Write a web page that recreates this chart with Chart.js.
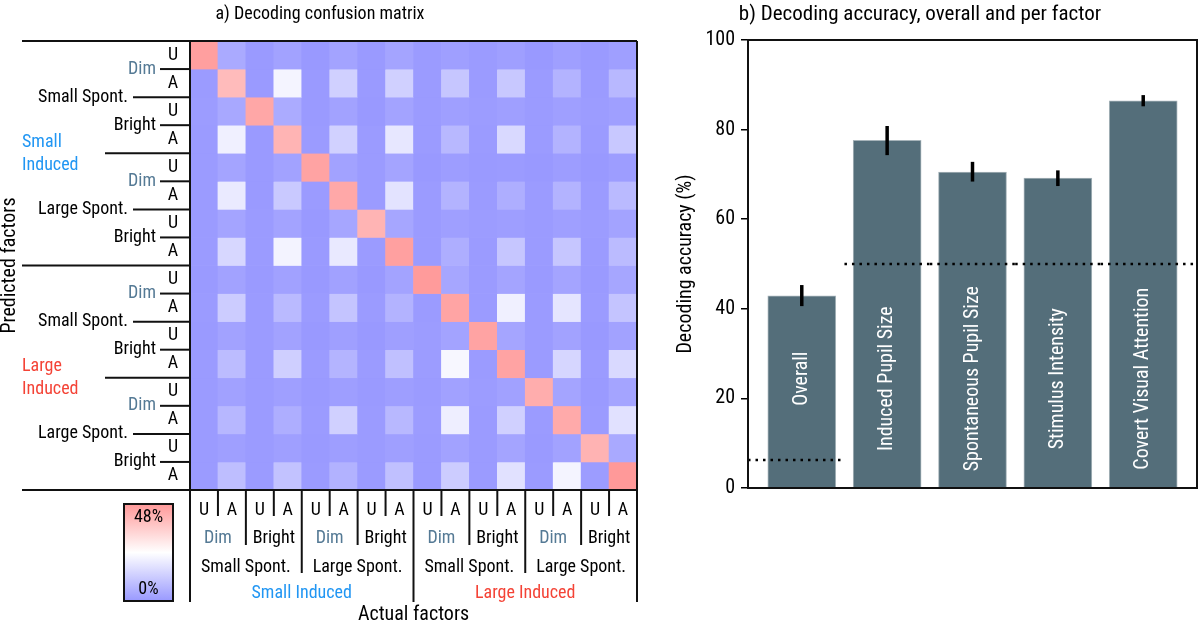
<!DOCTYPE html>
<html>
<head>
<meta charset="utf-8">
<script src="https://cdn.jsdelivr.net/npm/chart.js@4.4.1/dist/chart.umd.min.js"></script>
<style>
html, body { margin: 0; padding: 0; background: #fff; }
#wrap { position: relative; width: 1200px; height: 622px; }
#left { position: absolute; left: 0; top: 0; }
#right { position: absolute; left: 640px; top: 0; }
</style>
</head>
<body>
<div id="wrap">
  <canvas id="left" width="640" height="622"></canvas>
  <canvas id="right" width="560" height="622"></canvas>
</div>
<script>
const FONT = '"Roboto Condensed", "Liberation Sans Narrow", "DejaVu Sans Condensed", Roboto, sans-serif';

// factor levels, nested: induced > spontaneous > intensity > attention
const attention = ['U', 'A'];
const intensity = ['Dim', 'Bright'];
const spontaneous = ['Small Spont.', 'Large Spont.'];
const induced = ['Small Induced', 'Large Induced'];

// confusion matrix in %, rows = predicted, columns = actual
const confusion = [
  [46.6, 4.0, 0.3, 2.0, 0.0, 2.4, 0.3, 2.6, 0.5, 1.5, 0.5, 1.5, 0.0, 1.4, 0.3, 1.4],
  [0.5, 40.0, 0.3, 21.4, 0.3, 13.0, 0.3, 13.0, 0.5, 10.6, 0.5, 11.0, 0.5, 6.0, 0.5, 7.3],
  [0.7, 3.5, 44.7, 4.2, 0.3, 2.0, 0.0, 2.4, 0.5, 1.5, 0.7, 1.5, 0.5, 1.5, 0.7, 1.5],
  [0.5, 20.5, 0.3, 41.6, 0.5, 13.2, 0.5, 18.4, 0.5, 7.3, 0.5, 15.0, 0.5, 6.0, 0.5, 11.0],
  [0.5, 2.6, 0.3, 2.0, 45.6, 2.0, 0.5, 2.6, 0.0, 1.0, 0.3, 0.5, 0.0, 1.0, 0.0, 1.0],
  [0.5, 19.0, 0.3, 11.3, 0.5, 44.5, 0.5, 17.4, 0.5, 6.0, 0.5, 4.9, 0.5, 6.0, 0.5, 7.8],
  [0.5, 2.6, 0.5, 2.4, 0.0, 3.0, 41.6, 3.0, 0.5, 1.5, 0.7, 1.2, 0.5, 1.5, 0.7, 2.4],
  [0.5, 14.6, 0.5, 21.2, 0.3, 18.8, 0.5, 46.4, 0.5, 4.9, 0.5, 10.6, 0.5, 10.6, 0.5, 8.0],
  [0.3, 2.0, 0.3, 1.8, 0.0, 1.8, 0.0, 2.4, 47.6, 3.0, 0.5, 2.6, 0.3, 2.6, 0.3, 3.0],
  [0.5, 12.0, 0.5, 7.8, 0.5, 10.0, 0.5, 6.0, 0.5, 45.4, 0.5, 20.5, 0.5, 17.9, 0.5, 10.1],
  [0.3, 2.0, 0.5, 2.0, 0.0, 1.5, 0.0, 1.4, 0.7, 2.4, 45.6, 2.8, 0.5, 2.0, 0.0, 2.0],
  [0.5, 8.2, 0.5, 12.7, 0.5, 6.3, 0.5, 9.2, 0.7, 22.0, 0.5, 45.6, 0.5, 14.3, 0.5, 15.0],
  [0.5, 1.8, 0.5, 1.4, 0.3, 1.2, 0.3, 1.2, 0.5, 1.8, 0.7, 1.8, 43.3, 2.6, 0.3, 2.6],
  [0.5, 7.0, 0.5, 4.9, 0.5, 13.0, 0.5, 7.3, 0.7, 20.0, 0.5, 13.0, 0.5, 44.0, 0.5, 16.9],
  [0.5, 1.4, 0.5, 1.5, 0.3, 1.2, 0.5, 1.4, 0.5, 2.0, 0.5, 2.6, 0.3, 2.0, 41.9, 3.8],
  [0.5, 8.7, 0.5, 9.6, 0.5, 5.9, 0.5, 9.2, 0.5, 12.0, 0.5, 16.9, 0.5, 21.4, 0.7, 48.0]
];
const colorMax = 48;
const colorbarLabels = ['48%', '0%'];

// panel b
const factors = ['Overall', 'Induced Pupil Size', 'Spontaneous Pupil Size', 'Stimulus Intensity', 'Covert Visual Attention'];
const accuracy = [42.9, 77.6, 70.5, 69.2, 86.4];
const errLow = [40.6, 74.3, 68.4, 67.4, 85.2];
const errHigh = [45.3, 80.8, 72.8, 70.9, 87.7];
const chance = [6.25, 50, 50, 50, 50];

const levelColor = { 'Dim': '#557a95', 'Small Induced': '#2196f3', 'Large Induced': '#f44336' };

// blue-white-red at 40% opacity on white
function heatColor(v) {
  const t = Math.max(0, Math.min(1, v / colorMax));
  if (t < 0.5) {
    const c = Math.round(153 + 204 * t);
    return `rgb(${c},${c},255)`;
  }
  const c = Math.round(255 - 204 * (t - 0.5));
  return `rgb(255,${c},${c})`;
}

const cellLabels = [];
induced.forEach(a => spontaneous.forEach(b => intensity.forEach(c => attention.forEach(d => {
  cellLabels.push(`${a} / ${b} / ${c} / ${d}`);
}))));

function text(ctx, str, x, y, opts = {}) {
  ctx.save();
  ctx.font = `${opts.size || 18}px ${FONT}`;
  ctx.fillStyle = opts.color || '#000';
  ctx.textAlign = opts.align || 'center';
  ctx.textBaseline = 'middle';
  ctx.translate(x, y);
  if (opts.rotate) ctx.rotate(opts.rotate);
  ctx.fillText(str, 0, 0);
  ctx.restore();
}

function line(ctx, x0, y0, x1, y1) {
  ctx.beginPath();
  ctx.moveTo(x0, y0);
  ctx.lineTo(x1, y1);
  ctx.stroke();
}

const matrixLabels = {
  id: 'matrixLabels',
  afterDraw(chart) {
    const { ctx, chartArea: a, scales: { x, y } } = chart;
    const colX = k => x.getPixelForValue(k - 0.5);
    const rowY = k => y.getPixelForValue(k);
    const n = cellLabels.length;

    ctx.save();
    ctx.strokeStyle = '#111';
    ctx.lineWidth = 2;
    // frame
    line(ctx, 22, a.top, a.right, a.top);
    line(ctx, 22, a.bottom, a.right, a.bottom);
    line(ctx, a.left, a.top, a.left, 602);
    line(ctx, a.right, a.top, a.right, 602);

    for (let k = 1; k < n; k++) {
      // row separators on the left
      const yy = rowY(k);
      const x0 = k % 8 === 0 ? 22 : k % 4 === 0 ? 105 : k % 2 === 0 ? 133 : 160;
      line(ctx, x0, yy, a.left, yy);
      // column separators below
      const xx = colX(k);
      const y1 = k % 8 === 0 ? 602 : k % 4 === 0 ? 573 : k % 2 === 0 ? 545 : 516;
      line(ctx, xx, a.bottom, xx, y1);
    }
    ctx.restore();

    for (let k = 0; k < n; k++) {
      const lab = attention[k % 2];
      text(ctx, lab, 173, y.getPixelForValue(k + 0.5));
      text(ctx, lab, x.getPixelForValue(k), 510);
    }
    for (let k = 1; k < n; k += 2) {
      const lab = intensity[((k - 1) / 2) % 2];
      const col = levelColor[lab] || '#000';
      text(ctx, lab, 156, rowY(k), { align: 'right', color: col });
      text(ctx, lab, colX(k), 538, { color: col });
    }
    for (let k = 2; k < n; k += 4) {
      const lab = spontaneous[((k - 2) / 4) % 2];
      text(ctx, lab, 128, rowY(k), { align: 'right' });
      text(ctx, lab, colX(k), 567);
    }
    for (let k = 4; k < n; k += 8) {
      const lab = induced[(k - 4) / 8];
      const col = levelColor[lab];
      const parts = lab.split(' ');
      text(ctx, parts[0], 22, rowY(k) - 11, { align: 'left', color: col });
      text(ctx, parts[1], 22, rowY(k) + 12, { align: 'left', color: col });
      text(ctx, lab, colX(k), 593, { color: col });
    }

    // colour bar
    const cb = { l: 124, r: 173, t: 504, b: 601 };
    const g = ctx.createLinearGradient(0, cb.b, 0, cb.t);
    [0, 0.25, 0.5, 0.75, 1].forEach(s => g.addColorStop(s, heatColor(s * colorMax)));
    ctx.save();
    ctx.fillStyle = g;
    ctx.fillRect(cb.l, cb.t, cb.r - cb.l, cb.b - cb.t);
    ctx.strokeStyle = '#111';
    ctx.lineWidth = 2;
    ctx.strokeRect(cb.l, cb.t, cb.r - cb.l, cb.b - cb.t);
    ctx.restore();
    text(ctx, colorbarLabels[0], (cb.l + cb.r) / 2, cb.t + 13);
    text(ctx, colorbarLabels[1], (cb.l + cb.r) / 2, cb.b - 12);

    text(ctx, 'a) Decoding confusion matrix', 320, 14, { size: 18 });
    text(ctx, 'Predicted factors', 10, (a.top + a.bottom) / 2, { size: 20, rotate: -Math.PI / 2 });
    text(ctx, 'Actual factors', (a.left + a.right) / 2, 615, { size: 20 });
  }
};

new Chart(document.getElementById('left'), {
  type: 'bar',
  data: {
    labels: cellLabels,
    datasets: confusion.map((row, r) => ({
      label: cellLabels[r],
      data: row.map(() => 1),
      backgroundColor: row.map(heatColor),
      borderWidth: 0,
      barPercentage: 1,
      categoryPercentage: 1
    }))
  },
  options: {
    responsive: false,
    animation: false,
    layout: { padding: { left: 190, right: 3, top: 41, bottom: 132 } },
    plugins: { legend: { display: false }, tooltip: { enabled: false } },
    scales: {
      x: { stacked: true, display: false },
      y: { stacked: true, reverse: true, min: 0, max: confusion.length, display: false }
    }
  },
  plugins: [matrixLabels]
});

const accuracyExtras = {
  id: 'accuracyExtras',
  afterDatasetsDraw(chart) {
    const { ctx, chartArea: a, scales: { x, y } } = chart;
    ctx.save();
    // error bars
    ctx.strokeStyle = '#000';
    ctx.lineWidth = 3.5;
    accuracy.forEach((v, i) => {
      const px = x.getPixelForValue(i);
      line(ctx, px, y.getPixelForValue(errLow[i]), px, y.getPixelForValue(errHigh[i]));
    });
    // chance levels
    ctx.lineWidth = 2.5;
    ctx.setLineDash([2.5, 5]);
    chance.forEach((c, i) => {
      const x0 = i === 0 ? a.left : x.getPixelForValue(i - 0.5);
      const x1 = i === chance.length - 1 ? a.right : x.getPixelForValue(i + 0.5);
      const py = y.getPixelForValue(c);
      line(ctx, x0, py, x1, py);
    });
    ctx.setLineDash([]);
    // frame
    ctx.lineWidth = 2;
    ctx.strokeStyle = '#111';
    ctx.strokeRect(a.left, a.top, a.right - a.left, a.bottom - a.top);
    ctx.restore();

    factors.forEach((f, i) => {
      text(ctx, f, x.getPixelForValue(i), y.getPixelForValue(24.4), { size: 20, color: '#fff', rotate: -Math.PI / 2 });
    });
    text(ctx, 'b) Decoding accuracy, overall and per factor', 280, 15, { size: 21 });
    text(ctx, 'Decoding accuracy (%)', 46, (a.top + a.bottom) / 2, { size: 20, rotate: -Math.PI / 2 });
  }
};

new Chart(document.getElementById('right'), {
  type: 'bar',
  data: {
    datasets: [{
      label: 'Decoding accuracy',
      data: accuracy.map((v, i) => ({ x: i, y: v })),
      backgroundColor: '#546e7a',
      borderColor: '#a7b4ba',
      borderWidth: 1,
      barThickness: 68
    }]
  },
  options: {
    responsive: false,
    animation: false,
    layout: { padding: { left: 0, right: 3, top: 40, bottom: 134 } },
    plugins: { legend: { display: false }, tooltip: { enabled: false } },
    scales: {
      x: { type: 'linear', offset: false, min: -0.63, max: 4.63, display: false },
      y: {
        min: 0, max: 100,
        afterFit(s) { s.width = 108; },
        ticks: { stepSize: 20, color: '#000', padding: 6, font: { family: FONT, size: 20 } },
        grid: { drawOnChartArea: false, tickLength: 7, color: '#000', lineWidth: 1.5 },
        border: { display: false }
      }
    }
  },
  plugins: [accuracyExtras]
});
</script>
</body>
</html>
